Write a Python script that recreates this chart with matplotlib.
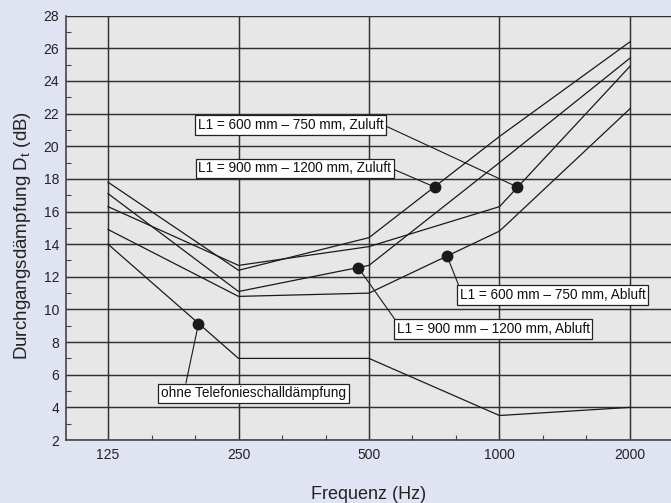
import numpy as np
import matplotlib
matplotlib.use("Agg")
import matplotlib.pyplot as plt
from matplotlib.ticker import FixedLocator, NullFormatter

plt.rcParams['font.family'] = ['Liberation Sans', 'DejaVu Sans']

# Frequenzen (Hz) und Durchgangsdaempfung (dB)
freq = [125, 250, 500, 1000, 2000]
zu_900_1200 = [17.8, 12.4, 14.4, 20.6, 26.4]
zu_600_750 = [16.3, 12.7, 13.85, 16.3, 24.9]
ab_900_1200 = [17.1, 11.1, 12.7, 19.0, 25.4]
ab_600_750 = [14.9, 10.8, 11.0, 14.8, 22.3]
ohne = [14.0, 7.0, 7.0, 3.5, 4.0]

series = [zu_900_1200, zu_600_750, ab_900_1200, ab_600_750, ohne]

# Beschriftungen: Text, Punkt auf der Kurve (f, dB), Textposition (f, dB), relpos
labels = ['L1 = 600 mm \u2013 750 mm, Zuluft',
          'L1 = 900 mm \u2013 1200 mm, Zuluft',
          'L1 = 600 mm \u2013 750 mm, Abluft',
          'L1 = 900 mm \u2013 1200 mm, Abluft',
          'ohne Telefonieschalld\u00e4mpfung']
dot_f = [1100, 709, 757, 472, 202]
dot_y = [17.5, 17.5, 13.27, 12.57, 9.1]
txt_f = [330, 337, 1326, 967, 271]
txt_y = [21.3, 18.65, 10.88, 8.81, 4.86]
rel = [(1, 0.5), (1, 0.5), (0.0, 1.0), (0.0, 1.0), (0.13, 1.0)]

xticks = [125, 250, 500, 1000, 2000]

fig = plt.figure(figsize=(6.71, 5.03), dpi=100, facecolor='#e0e4f2')
ax = fig.add_axes([66 / 671, 63 / 503, 606 / 671, 424.3 / 503])
ax.set_facecolor('#e7e7e8')

ax.set_xscale('log', base=2)
ax.set_xlim(100, 2500)
ax.set_ylim(2, 28)

ax.xaxis.set_major_locator(FixedLocator(xticks))
ax.set_xticklabels([str(v) for v in xticks])
minors = [f * 2 ** (k / 3) for f in xticks[:-1] for k in (1, 2)]
ax.xaxis.set_minor_locator(FixedLocator(minors))
ax.xaxis.set_minor_formatter(NullFormatter())
ax.set_yticks(range(2, 29, 2))
ax.yaxis.set_minor_locator(FixedLocator(range(3, 28, 2)))

ax.grid(True, which='major', color='#303030', lw=1.05)
ax.set_axisbelow(True)
ax.tick_params(which='major', direction='in', length=0, labelsize=10,
               colors='#222222', pad=5)
ax.tick_params(axis='x', which='major', pad=6)
ax.tick_params(which='minor', direction='in', length=3.5, width=0.8,
               color='#444444')
for s in ['top', 'right']:
    ax.spines[s].set_visible(False)
for s in ['left', 'bottom']:
    ax.spines[s].set_color('#444444')
    ax.spines[s].set_linewidth(1.2)

for vals in series:
    ax.plot(freq, vals, color='#1a1a1a', lw=0.9, zorder=3)

ax.plot(dot_f, dot_y, 'o', color='#1a1a1a', ms=7.5, zorder=5)

for t, fx, fy, tx, ty, rp in zip(labels, dot_f, dot_y, txt_f, txt_y, rel):
    ax.annotate(t, xy=(fx, fy), xytext=(tx, ty), ha='center', va='center',
                fontsize=9.8, color='#111111', zorder=6,
                bbox=dict(boxstyle='square,pad=0.2', fc='white',
                          ec='#222222', lw=0.9),
                arrowprops=dict(arrowstyle='-', color='#1a1a1a', lw=0.8,
                                relpos=rp, shrinkA=0, shrinkB=0))

ax.set_xlabel('Frequenz (Hz)', fontsize=13, color='#222222', labelpad=17)
ax.set_ylabel('Durchgangsd\u00e4mpfung $\\mathregular{D_t}$ (dB)',
              fontsize=13.5, color='#222222')
ax.yaxis.set_label_coords(-0.054, 0.483)

fig.savefig('out.png', dpi=100, facecolor=fig.get_facecolor())
